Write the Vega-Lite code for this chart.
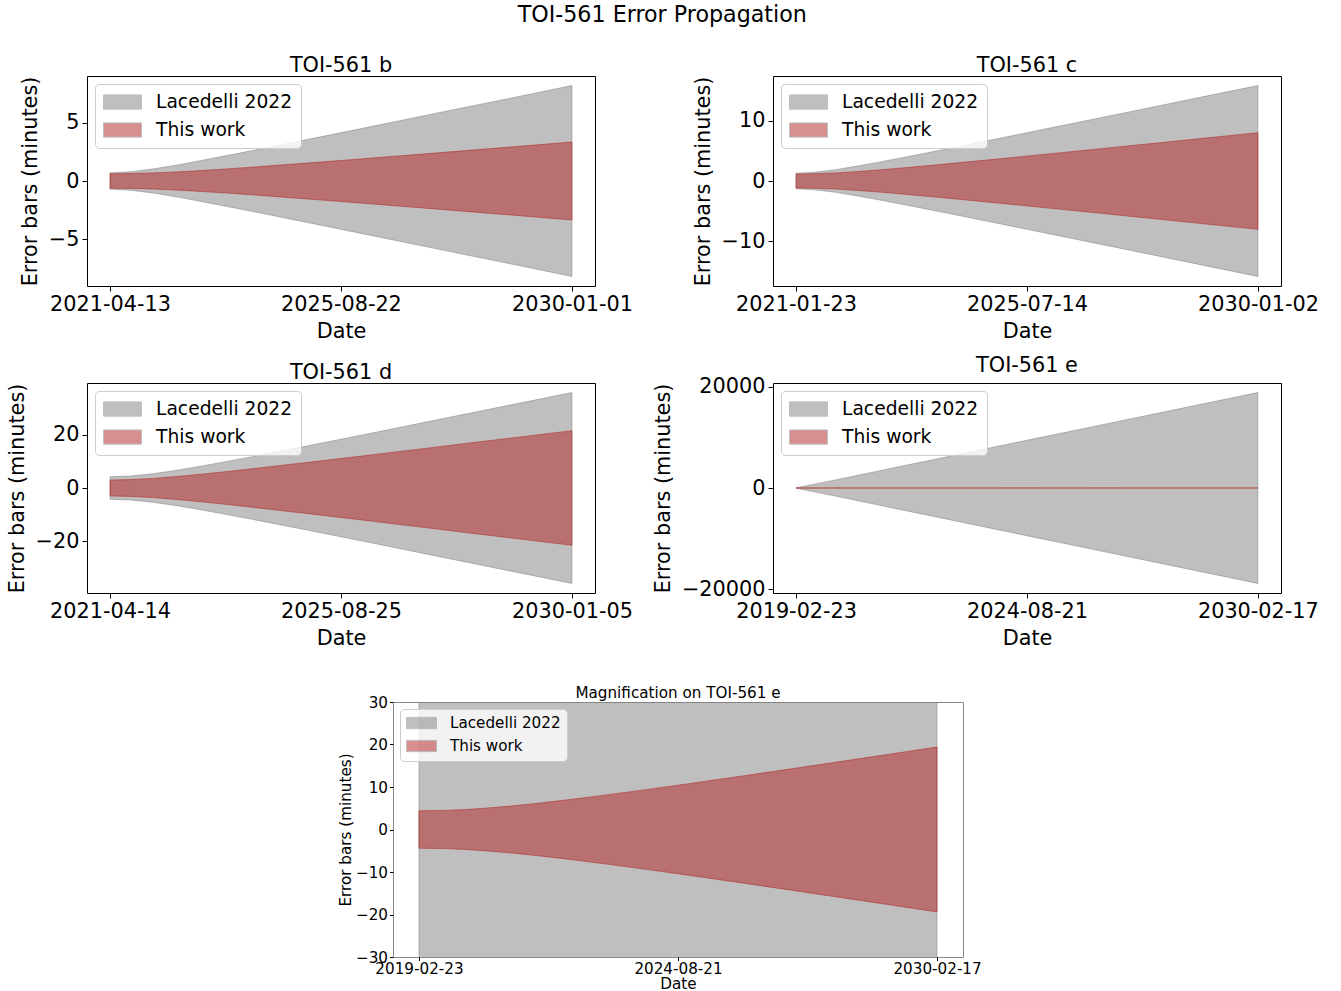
{
  "$schema": "https://vega.github.io/schema/vega-lite/v6.json",
  "background": "white",
  "padding": {"left": 5, "top": 3, "right": 5, "bottom": 0},
  "title": {"text": "TOI-561 Error Propagation", "fontSize": 22.2, "fontWeight": "normal", "font": "DejaVu Sans", "color": "black", "anchor": "middle", "frame": "bounds", "offset": 29},
  "config": {
    "font": "DejaVu Sans",
    "view": {"stroke": "black", "strokeWidth": 1},
    "axis": {"labelFont": "DejaVu Sans", "titleFont": "DejaVu Sans", "labelFontSize": 20.8, "titleFontSize": 20.8, "labelColor": "black", "titleColor": "black", "titleFontWeight": "normal", "tickColor": "black", "tickSize": 5, "domain": false, "grid": false, "labelFlush": false, "labelOverlap": false, "labelPadding": 3, "titlePadding": 8},
    "title": {"fontSize": 20.8, "fontWeight": "normal", "font": "DejaVu Sans", "color": "black", "offset": -1, "frame": "group"},
    "legend": {"orient": "top-left", "labelFont": "DejaVu Sans", "labelFontSize": 18.7, "labelColor": "black", "symbolType": "M-1,-0.75H3V0.75H-1Z", "symbolSize": 361, "symbolOpacity": 0.5, "symbolStrokeWidth": 1, "fillColor": "rgba(255,255,255,0.8)", "strokeColor": "#cccccc", "cornerRadius": 4, "padding": 8, "rowPadding": 8, "labelOffset": 33, "offset": 8}
  },
  "datasets": {
    "b": [
      {"date": "2021-04-13", "lac_lo": -0.70, "lac_hi": 0.70, "tw_lo": -0.62, "tw_hi": 0.62},
      {"date": "2021-09-01", "lac_lo": -0.79, "lac_hi": 0.79, "tw_lo": -0.64, "tw_hi": 0.64},
      {"date": "2022-02-01", "lac_lo": -1.03, "lac_hi": 1.03, "tw_lo": -0.69, "tw_hi": 0.69},
      {"date": "2022-08-01", "lac_lo": -1.40, "lac_hi": 1.40, "tw_lo": -0.79, "tw_hi": 0.79},
      {"date": "2023-01-01", "lac_lo": -1.76, "lac_hi": 1.76, "tw_lo": -0.90, "tw_hi": 0.90},
      {"date": "2023-06-01", "lac_lo": -2.12, "lac_hi": 2.12, "tw_lo": -1.02, "tw_hi": 1.02},
      {"date": "2024-01-01", "lac_lo": -2.64, "lac_hi": 2.64, "tw_lo": -1.20, "tw_hi": 1.20},
      {"date": "2025-01-01", "lac_lo": -3.56, "lac_hi": 3.56, "tw_lo": -1.54, "tw_hi": 1.54},
      {"date": "2026-01-01", "lac_lo": -4.48, "lac_hi": 4.48, "tw_lo": -1.89, "tw_hi": 1.89},
      {"date": "2027-01-01", "lac_lo": -5.41, "lac_hi": 5.41, "tw_lo": -2.25, "tw_hi": 2.25},
      {"date": "2028-01-01", "lac_lo": -6.34, "lac_hi": 6.34, "tw_lo": -2.61, "tw_hi": 2.61},
      {"date": "2029-01-01", "lac_lo": -7.26, "lac_hi": 7.26, "tw_lo": -2.98, "tw_hi": 2.98},
      {"date": "2030-01-01", "lac_lo": -8.20, "lac_hi": 8.20, "tw_lo": -3.35, "tw_hi": 3.35}
    ],
    "c": [
      {"date": "2021-01-23", "lac_lo": -1.30, "lac_hi": 1.30, "tw_lo": -1.15, "tw_hi": 1.15},
      {"date": "2021-06-01", "lac_lo": -1.44, "lac_hi": 1.44, "tw_lo": -1.19, "tw_hi": 1.19},
      {"date": "2021-11-01", "lac_lo": -1.88, "lac_hi": 1.88, "tw_lo": -1.34, "tw_hi": 1.34},
      {"date": "2022-04-01", "lac_lo": -2.47, "lac_hi": 2.47, "tw_lo": -1.56, "tw_hi": 1.56},
      {"date": "2022-09-01", "lac_lo": -3.12, "lac_hi": 3.12, "tw_lo": -1.83, "tw_hi": 1.83},
      {"date": "2023-03-01", "lac_lo": -3.92, "lac_hi": 3.92, "tw_lo": -2.19, "tw_hi": 2.19},
      {"date": "2024-01-01", "lac_lo": -5.34, "lac_hi": 5.34, "tw_lo": -2.85, "tw_hi": 2.85},
      {"date": "2025-01-01", "lac_lo": -7.07, "lac_hi": 7.07, "tw_lo": -3.68, "tw_hi": 3.68},
      {"date": "2026-01-01", "lac_lo": -8.81, "lac_hi": 8.81, "tw_lo": -4.53, "tw_hi": 4.53},
      {"date": "2027-01-01", "lac_lo": -10.54, "lac_hi": 10.54, "tw_lo": -5.38, "tw_hi": 5.38},
      {"date": "2028-01-01", "lac_lo": -12.29, "lac_hi": 12.29, "tw_lo": -6.25, "tw_hi": 6.25},
      {"date": "2029-01-01", "lac_lo": -14.05, "lac_hi": 14.05, "tw_lo": -7.13, "tw_hi": 7.13},
      {"date": "2030-01-02", "lac_lo": -15.80, "lac_hi": 15.80, "tw_lo": -8.00, "tw_hi": 8.00}
    ],
    "d": [
      {"date": "2021-04-14", "lac_lo": -4.20, "lac_hi": 4.20, "tw_lo": -3.00, "tw_hi": 3.00},
      {"date": "2021-09-01", "lac_lo": -4.49, "lac_hi": 4.49, "tw_lo": -3.15, "tw_hi": 3.15},
      {"date": "2022-02-01", "lac_lo": -5.32, "lac_hi": 5.32, "tw_lo": -3.58, "tw_hi": 3.58},
      {"date": "2022-08-01", "lac_lo": -6.76, "lac_hi": 6.76, "tw_lo": -4.37, "tw_hi": 4.37},
      {"date": "2023-01-01", "lac_lo": -8.17, "lac_hi": 8.17, "tw_lo": -5.16, "tw_hi": 5.16},
      {"date": "2023-06-01", "lac_lo": -9.67, "lac_hi": 9.67, "tw_lo": -6.02, "tw_hi": 6.02},
      {"date": "2024-01-01", "lac_lo": -11.86, "lac_hi": 11.86, "tw_lo": -7.29, "tw_hi": 7.29},
      {"date": "2025-01-01", "lac_lo": -15.75, "lac_hi": 15.75, "tw_lo": -9.57, "tw_hi": 9.57},
      {"date": "2026-01-01", "lac_lo": -19.68, "lac_hi": 19.68, "tw_lo": -11.90, "tw_hi": 11.90},
      {"date": "2027-01-01", "lac_lo": -23.70, "lac_hi": 23.70, "tw_lo": -14.29, "tw_hi": 14.29},
      {"date": "2028-01-01", "lac_lo": -27.73, "lac_hi": 27.73, "tw_lo": -16.69, "tw_hi": 16.69},
      {"date": "2029-01-01", "lac_lo": -31.74, "lac_hi": 31.74, "tw_lo": -19.08, "tw_hi": 19.08},
      {"date": "2030-01-05", "lac_lo": -35.80, "lac_hi": 35.80, "tw_lo": -21.50, "tw_hi": 21.50}
    ],
    "e": [
      {"date": "2019-02-23", "lac_lo": -40, "lac_hi": 40, "tw_lo": -4.40, "tw_hi": 4.40},
      {"date": "2019-09-01", "lac_lo": -901, "lac_hi": 901, "tw_lo": -4.49, "tw_hi": 4.49},
      {"date": "2020-03-01", "lac_lo": -1742, "lac_hi": 1742, "tw_lo": -4.73, "tw_hi": 4.73},
      {"date": "2020-09-01", "lac_lo": -2616, "lac_hi": 2616, "tw_lo": -5.12, "tw_hi": 5.12},
      {"date": "2021-03-01", "lac_lo": -3457, "lac_hi": 3457, "tw_lo": -5.60, "tw_hi": 5.60},
      {"date": "2021-09-01", "lac_lo": -4334, "lac_hi": 4334, "tw_lo": -6.18, "tw_hi": 6.18},
      {"date": "2022-03-01", "lac_lo": -5174, "lac_hi": 5174, "tw_lo": -6.80, "tw_hi": 6.80},
      {"date": "2023-01-01", "lac_lo": -6614, "lac_hi": 6614, "tw_lo": -7.96, "tw_hi": 7.96},
      {"date": "2024-01-01", "lac_lo": -8332, "lac_hi": 8332, "tw_lo": -9.44, "tw_hi": 9.44},
      {"date": "2025-01-01", "lac_lo": -10047, "lac_hi": 10047, "tw_lo": -10.99, "tw_hi": 10.99},
      {"date": "2026-01-01", "lac_lo": -11762, "lac_hi": 11762, "tw_lo": -12.59, "tw_hi": 12.59},
      {"date": "2027-01-01", "lac_lo": -13480, "lac_hi": 13480, "tw_lo": -14.21, "tw_hi": 14.21},
      {"date": "2028-01-01", "lac_lo": -15195, "lac_hi": 15195, "tw_lo": -15.86, "tw_hi": 15.86},
      {"date": "2029-01-01", "lac_lo": -16910, "lac_hi": 16910, "tw_lo": -17.52, "tw_hi": 17.52},
      {"date": "2030-02-17", "lac_lo": -18850, "lac_hi": 18850, "tw_lo": -19.40, "tw_hi": 19.40}
    ]
  },
  "spacing": 11,
  "resolve": {"scale": {"color": "independent"}, "legend": {"color": "independent"}},
  "vconcat": [
    {
      "hconcat": [
        {
          "width": 508, "height": 210, "title": "TOI-561 b",
          "data": {"name": "b"},
          "encoding": {"x": {"field": "date", "type": "temporal", "scale": {"type": "utc", "domain": [{"year": 2020, "month": 11, "date": 5, "utc": true}, {"year": 2030, "month": 6, "date": 9, "utc": true}]}, "axis": {"title": "Date", "format": "%Y-%m-%d", "values": [{"year": 2021, "month": 4, "date": 13, "utc": true}, {"year": 2025, "month": 8, "date": 22, "utc": true}, {"year": 2030, "month": 1, "date": 1, "utc": true}]}}},
          "layer": [
            {"mark": {"type": "area", "fillOpacity": 0.5, "stroke": "#808080", "strokeOpacity": 0.5, "strokeWidth": 1}, "encoding": {"y": {"field": "lac_lo", "type": "quantitative", "scale": {"domain": [-9.02, 9.02], "nice": false, "zero": false}, "axis": {"title": "Error bars (minutes)", "values": [-5, 0, 5], "format": "d"}}, "y2": {"field": "lac_hi"}, "color": {"datum": "Lacedelli 2022", "type": "nominal", "scale": {"domain": ["Lacedelli 2022", "This work"], "range": ["#808080", "#b22222"]}, "legend": {"title": null}}}},
            {"mark": {"type": "area", "fillOpacity": 0.5, "stroke": "#b22222", "strokeOpacity": 0.5, "strokeWidth": 1}, "encoding": {"y": {"field": "tw_lo", "type": "quantitative"}, "y2": {"field": "tw_hi"}, "color": {"datum": "This work", "type": "nominal", "legend": {"title": null}}}}
          ]
        },
        {
          "width": 508, "height": 210, "title": "TOI-561 c",
          "data": {"name": "c"},
          "encoding": {"x": {"field": "date", "type": "temporal", "scale": {"type": "utc", "domain": [{"year": 2020, "month": 8, "date": 13, "utc": true}, {"year": 2030, "month": 6, "date": 14, "utc": true}]}, "axis": {"title": "Date", "format": "%Y-%m-%d", "values": [{"year": 2021, "month": 1, "date": 23, "utc": true}, {"year": 2025, "month": 7, "date": 14, "utc": true}, {"year": 2030, "month": 1, "date": 2, "utc": true}]}}},
          "layer": [
            {"mark": {"type": "area", "fillOpacity": 0.5, "stroke": "#808080", "strokeOpacity": 0.5, "strokeWidth": 1}, "encoding": {"y": {"field": "lac_lo", "type": "quantitative", "scale": {"domain": [-17.38, 17.38], "nice": false, "zero": false}, "axis": {"title": "Error bars (minutes)", "values": [-10, 0, 10], "format": "d"}}, "y2": {"field": "lac_hi"}, "color": {"datum": "Lacedelli 2022", "type": "nominal", "scale": {"domain": ["Lacedelli 2022", "This work"], "range": ["#808080", "#b22222"]}, "legend": {"title": null}}}},
            {"mark": {"type": "area", "fillOpacity": 0.5, "stroke": "#b22222", "strokeOpacity": 0.5, "strokeWidth": 1}, "encoding": {"y": {"field": "tw_lo", "type": "quantitative"}, "y2": {"field": "tw_hi"}, "color": {"datum": "This work", "type": "nominal", "legend": {"title": null}}}}
          ]
        }
      ],
      "spacing": 178, "bounds": "flush",
      "resolve": {"scale": {"color": "independent"}, "legend": {"color": "independent"}}
    },
    {
      "hconcat": [
        {
          "width": 508, "height": 210, "title": "TOI-561 d",
          "data": {"name": "d"},
          "encoding": {"x": {"field": "date", "type": "temporal", "scale": {"type": "utc", "domain": [{"year": 2020, "month": 11, "date": 6, "utc": true}, {"year": 2030, "month": 6, "date": 13, "utc": true}]}, "axis": {"title": "Date", "format": "%Y-%m-%d", "values": [{"year": 2021, "month": 4, "date": 14, "utc": true}, {"year": 2025, "month": 8, "date": 25, "utc": true}, {"year": 2030, "month": 1, "date": 5, "utc": true}]}}},
          "layer": [
            {"mark": {"type": "area", "fillOpacity": 0.5, "stroke": "#808080", "strokeOpacity": 0.5, "strokeWidth": 1}, "encoding": {"y": {"field": "lac_lo", "type": "quantitative", "scale": {"domain": [-39.38, 39.38], "nice": false, "zero": false}, "axis": {"title": "Error bars (minutes)", "values": [-20, 0, 20], "format": "d"}}, "y2": {"field": "lac_hi"}, "color": {"datum": "Lacedelli 2022", "type": "nominal", "scale": {"domain": ["Lacedelli 2022", "This work"], "range": ["#808080", "#b22222"]}, "legend": {"title": null}}}},
            {"mark": {"type": "area", "fillOpacity": 0.5, "stroke": "#b22222", "strokeOpacity": 0.5, "strokeWidth": 1}, "encoding": {"y": {"field": "tw_lo", "type": "quantitative"}, "y2": {"field": "tw_hi"}, "color": {"datum": "This work", "type": "nominal", "legend": {"title": null}}}}
          ]
        },
        {
          "width": 508, "height": 210, "title": "TOI-561 e",
          "data": {"name": "e"},
          "encoding": {"x": {"field": "date", "type": "temporal", "scale": {"type": "utc", "domain": [{"year": 2018, "month": 8, "date": 6, "utc": true}, {"year": 2030, "month": 9, "date": 6, "utc": true}]}, "axis": {"title": "Date", "format": "%Y-%m-%d", "values": [{"year": 2019, "month": 2, "date": 23, "utc": true}, {"year": 2024, "month": 8, "date": 21, "utc": true}, {"year": 2030, "month": 2, "date": 17, "utc": true}]}}},
          "layer": [
            {"mark": {"type": "area", "fillOpacity": 0.5, "stroke": "#808080", "strokeOpacity": 0.5, "strokeWidth": 1}, "encoding": {"y": {"field": "lac_lo", "type": "quantitative", "scale": {"domain": [-20735, 20735], "nice": false, "zero": false}, "axis": {"title": "Error bars (minutes)", "values": [-20000, 0, 20000], "format": "d"}}, "y2": {"field": "lac_hi"}, "color": {"datum": "Lacedelli 2022", "type": "nominal", "scale": {"domain": ["Lacedelli 2022", "This work"], "range": ["#808080", "#b22222"]}, "legend": {"title": null}}}},
            {"mark": {"type": "area", "fillOpacity": 0.5, "stroke": "#b22222", "strokeOpacity": 0.5, "strokeWidth": 1}, "encoding": {"y": {"field": "tw_lo", "type": "quantitative"}, "y2": {"field": "tw_hi"}, "color": {"datum": "This work", "type": "nominal", "legend": {"title": null}}}}
          ]
        }
      ],
      "spacing": 178, "bounds": "flush",
      "resolve": {"scale": {"color": "independent"}, "legend": {"color": "independent"}}
    },
    {
      "hconcat": [
        {"width": 1, "height": 1, "title": {"text": " ", "fontSize": 15.2, "offset": 25}, "data": {"values": []}, "mark": "rect", "view": {"stroke": null}},
        {
          "width": 570, "height": 255,
          "title": {"text": "Magnification on TOI-561 e", "fontSize": 15.2, "offset": -6},
          "data": {"name": "e"},
          "view": {"stroke": "#888888"},
          "encoding": {"x": {"field": "date", "type": "temporal", "scale": {"type": "utc", "domain": [{"year": 2018, "month": 8, "date": 6, "utc": true}, {"year": 2030, "month": 9, "date": 6, "utc": true}]}, "axis": {"title": "Date", "format": "%Y-%m-%d", "labelFontSize": 15.2, "titleFontSize": 15.2, "tickSize": 3.5, "labelPadding": 1, "titlePadding": 0, "values": [{"year": 2019, "month": 2, "date": 23, "utc": true}, {"year": 2024, "month": 8, "date": 21, "utc": true}, {"year": 2030, "month": 2, "date": 17, "utc": true}]}}},
          "layer": [
            {"mark": {"type": "area", "fillOpacity": 0.5, "stroke": "#808080", "strokeOpacity": 0.5, "strokeWidth": 1, "clip": true}, "encoding": {"y": {"field": "lac_lo", "type": "quantitative", "scale": {"domain": [-30, 30], "nice": false, "zero": false}, "axis": {"title": "Error bars (minutes)", "values": [-30, -20, -10, 0, 10, 20, 30], "format": "d", "labelFontSize": 15.2, "titleFontSize": 15.2, "tickSize": 3.5, "labelPadding": 2, "titlePadding": 2}}, "y2": {"field": "lac_hi"}, "color": {"datum": "Lacedelli 2022", "type": "nominal", "scale": {"domain": ["Lacedelli 2022", "This work"], "range": ["#808080", "#b22222"]}, "legend": {"title": null, "labelFontSize": 15.2, "symbolSize": 225, "rowPadding": 6, "labelOffset": 28, "padding": 6, "offset": 7}}}},
            {"mark": {"type": "area", "fillOpacity": 0.5, "stroke": "#b22222", "strokeOpacity": 0.5, "strokeWidth": 1, "clip": true}, "encoding": {"y": {"field": "tw_lo", "type": "quantitative"}, "y2": {"field": "tw_hi"}, "color": {"datum": "This work", "type": "nominal", "legend": {"title": null}}}}
          ]
        }
      ],
      "spacing": 305, "bounds": "flush",
      "resolve": {"scale": {"color": "independent"}, "legend": {"color": "independent"}}
    }
  ]
}
